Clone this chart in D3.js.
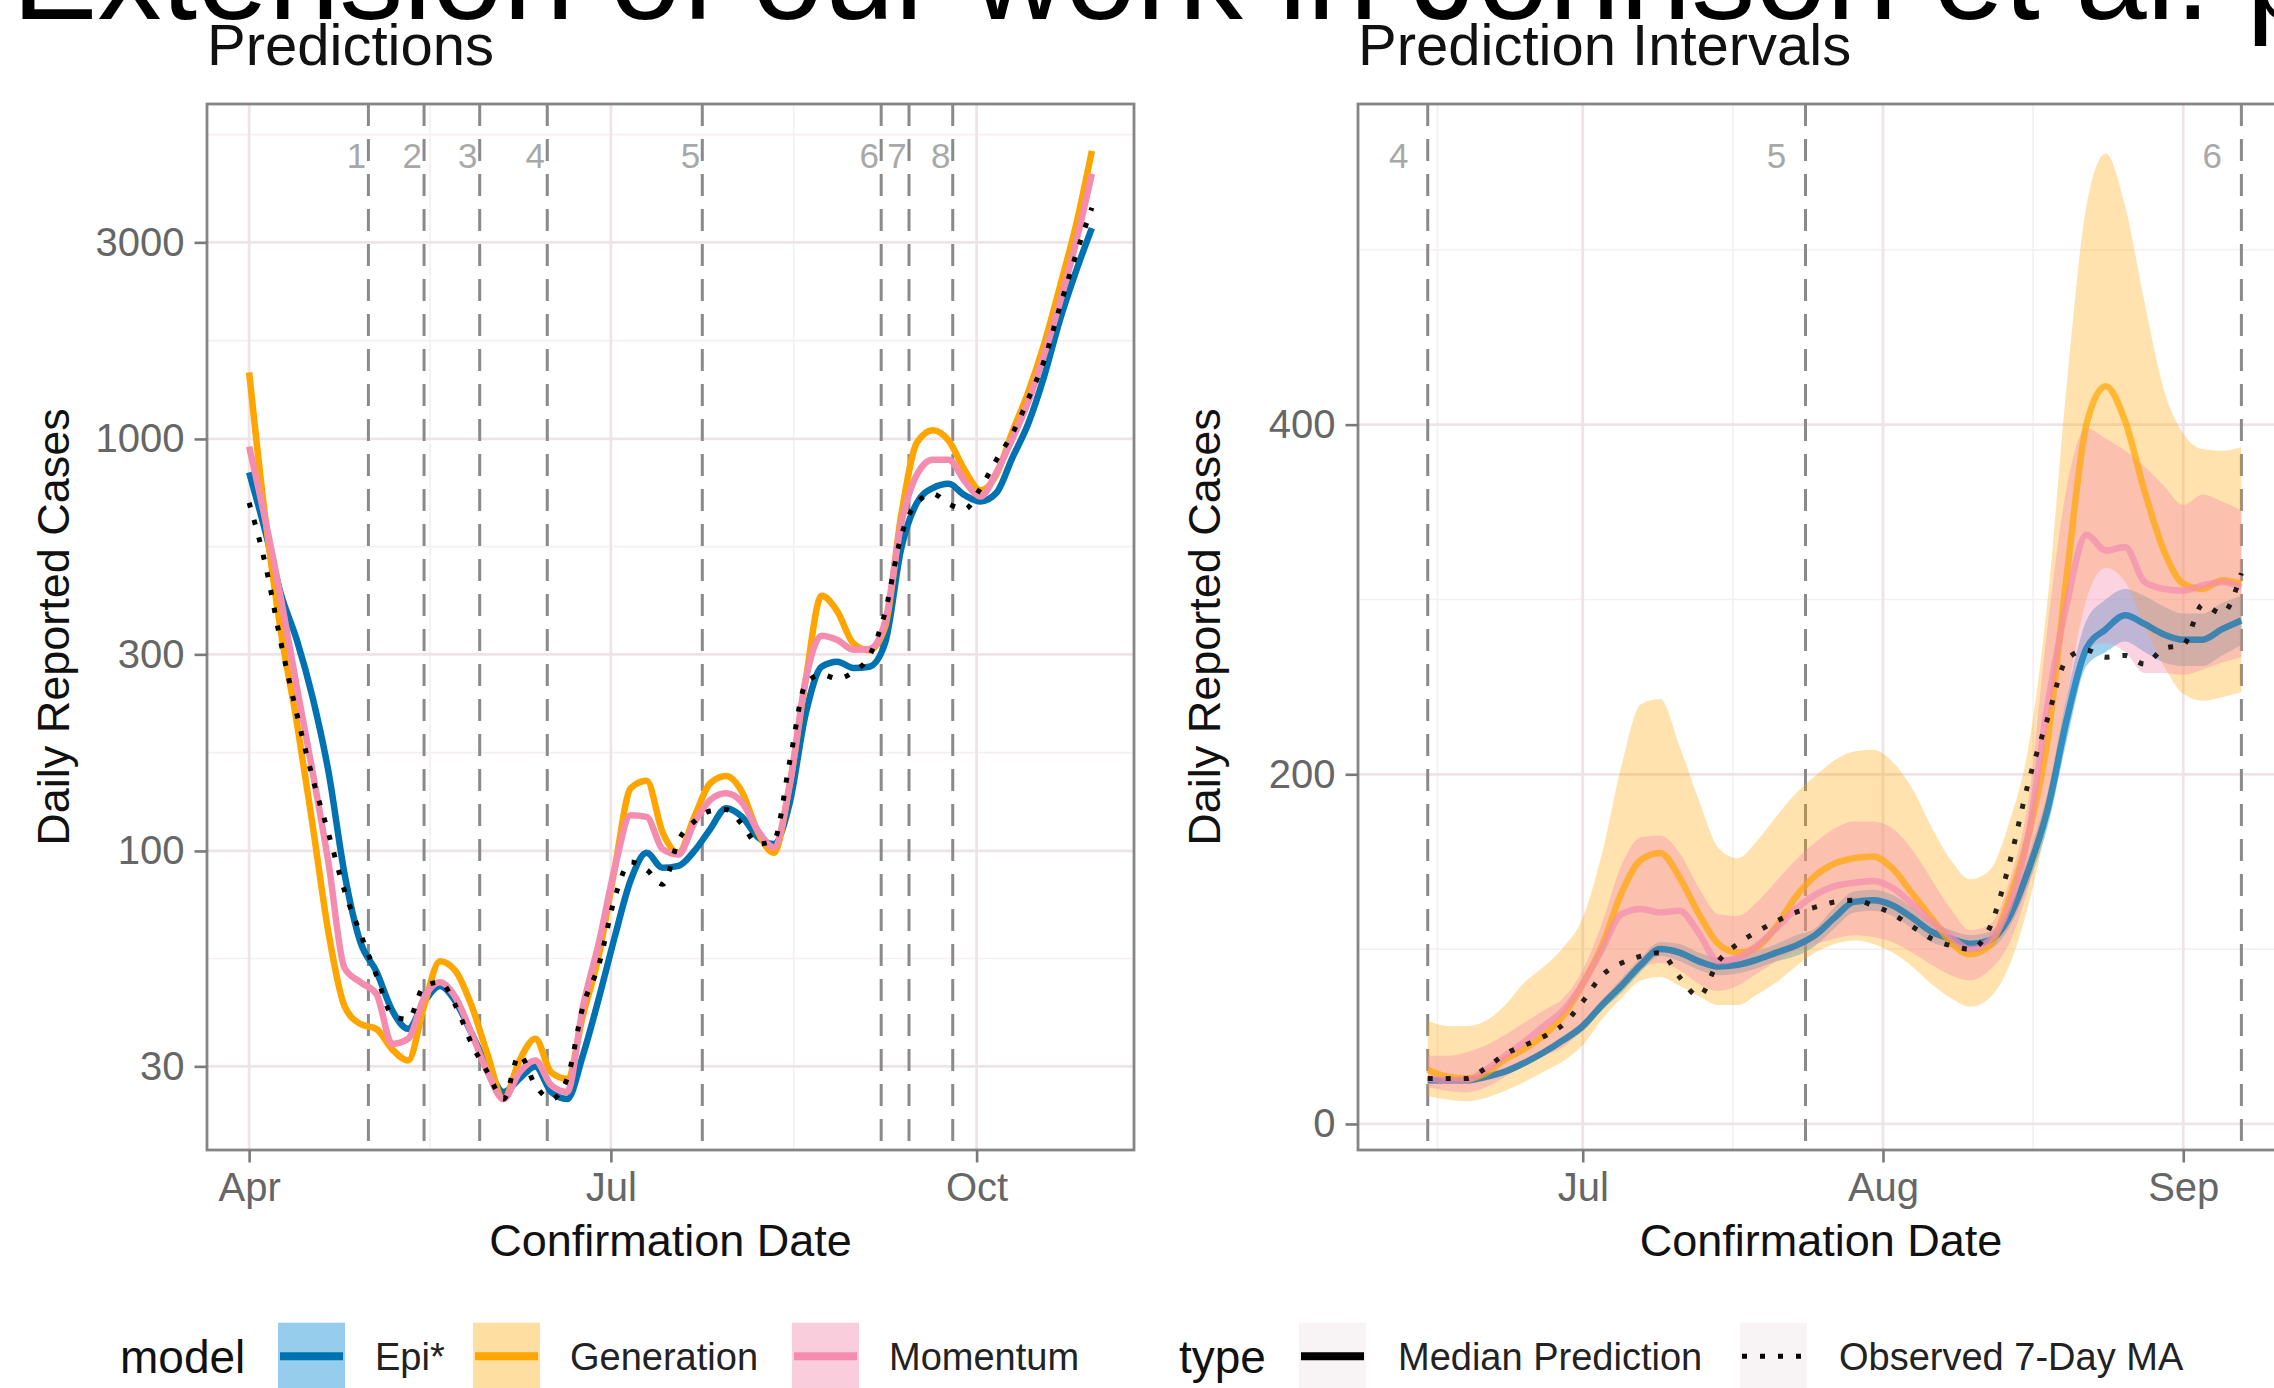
<!DOCTYPE html>
<html>
<head>
<meta charset="utf-8">
<script src="https://cdn.jsdelivr.net/npm/d3@7"></script>
<style>
	body { margin: 0; background: #fff; overflow: hidden; }
	text { font-family: "Liberation Sans", Arial, Helvetica, sans-serif; }
</style>
</head>
<body>
<script>
// ---------- data ----------

// left panel: days after 2020-04-01 (every 4 days up to 30 Oct)
let predDays = [0, 4, 8, 12, 16, 20, 24, 28, 32, 36,
	40, 44, 48, 52, 56, 60, 64, 68, 72, 76,
	80, 84, 88, 92, 96, 100, 104, 108, 112, 116,
	120, 124, 128, 132, 136, 140, 144, 148, 152, 156,
	160, 164, 168, 172, 176, 180, 184, 188, 192, 196,
	200, 204, 208, 212];

let epiMedian = [830, 600, 420, 325, 235, 155, 88, 60, 51, 41,
	37, 43, 47, 43, 36, 30, 26, 28, 30, 26,
	25, 32, 44, 62, 85, 99, 91, 92, 100, 113,
	127, 121, 108, 104, 131, 215, 280, 288, 278, 280,
	320, 540, 700, 760, 778, 730, 705, 740, 900, 1090,
	1420, 1950, 2550, 3250];

let genMedian = [1450, 650, 340, 205, 115, 63, 42, 38, 37, 33,
	31, 42, 54, 51, 42, 32, 25, 31, 35, 29,
	28, 40, 56, 91, 142, 148, 111, 99, 121, 146,
	152, 139, 111, 99, 145, 260, 416, 381, 319, 307,
	350, 650, 980, 1050, 990, 840, 750, 820, 1040, 1300,
	1700, 2350, 3300, 5000];

let momMedian = [958, 640, 410, 250, 155, 93, 52, 48, 45, 34,
	35, 44, 48, 44, 36, 29, 25, 29, 31, 27,
	26, 42, 60, 91, 122, 121, 101, 98, 117, 133,
	138, 131, 112, 102, 145, 260, 333, 325, 308, 309,
	360, 620, 820, 890, 890, 790, 725, 830, 1000, 1230,
	1600, 2150, 3000, 4400];

let observedMA = [700, 500, 320, 215, 150, 110, 80, 63, 50, 40,
	39, 47, 48, 42, 34, 29, 25, 32, 27, 25,
	28, 42, 53, 77, 94, 90, 83, 106, 118, 125,
	126, 116, 104, 106, 165, 254, 268, 262, 272, 297,
	380, 580, 700, 736, 695, 675, 760, 890, 1030, 1250,
	1550, 2100, 2800, 3640];

// right panel: days after 2020-06-15 (every 2 days up to 7 Sep)
let intDays = [0, 2, 4, 6, 8, 10, 12, 14, 16, 18,
	20, 22, 24, 26, 28, 30, 32, 34, 36, 38,
	40, 42, 44, 46, 48, 50, 52, 54, 56, 58,
	60, 62, 64, 66, 68, 70, 72, 74, 76, 78,
	80, 82, 84];

let epiMid = [25, 25, 25, 27, 30, 35, 41, 48, 56, 68,
	79, 91, 100, 98, 93, 90, 91, 94, 98, 102,
	108, 118, 127, 128, 125, 118, 110, 106, 103, 105,
	118, 145, 180, 232, 272, 283, 291, 286, 280, 277,
	277, 283, 288];
let epiLo = [23, 23, 23, 25, 28, 33, 39, 46, 53, 65,
	75, 87, 96, 93, 88, 85, 86, 89, 93, 96,
	102, 112, 121, 122, 119, 112, 104, 101, 98, 100,
	112, 137, 170, 220, 262, 270, 276, 270, 264, 262,
	262, 268, 274];
let epiHi = [27, 27, 27, 29, 32, 37, 43, 50, 59, 71,
	83, 95, 104, 103, 98, 95, 96, 99, 103, 108,
	112, 124, 133, 134, 131, 124, 116, 111, 108, 110,
	124, 153, 190, 245, 288, 300, 306, 302, 296, 292,
	292, 298, 302];

let genMid = [31, 27, 26, 29, 37, 43, 51, 62, 80, 102,
	132, 151, 155, 141, 120, 103, 98, 101, 113, 130,
	142, 149, 152, 153, 146, 132, 118, 104, 97, 102,
	128, 165, 220, 315, 400, 422, 402, 362, 328, 309,
	306, 311, 309];
let genLo = [16, 14, 13, 15, 19, 24, 30, 36, 45, 60,
	72, 82, 84, 79, 73, 68, 68, 74, 81, 90,
	98, 103, 105, 103, 98, 90, 80, 72, 67, 72,
	90, 125, 175, 245, 300, 318, 310, 285, 262, 246,
	242, 244, 247];
let genHi = [59, 56, 56, 59, 68, 81, 90, 101, 118, 155,
	205, 240, 243, 216, 185, 158, 152, 162, 176, 189,
	199, 208, 213, 214, 207, 192, 170, 151, 140, 145,
	172, 215, 300, 425, 525, 555, 525, 470, 420, 395,
	386, 385, 387];

let momMid = [26, 25, 25, 31, 39, 47, 56, 65, 80, 100,
	120, 123, 121, 122, 109, 93, 95, 102, 112, 123,
	131, 136, 138, 139, 135, 126, 116, 107, 100, 105,
	124, 165, 240, 298, 337, 328, 330, 310, 306, 305,
	308, 310, 307];
let momLo = [21, 19, 18, 21, 27, 34, 39, 44, 54, 68,
	79, 89, 92, 88, 80, 76, 79, 86, 93, 99,
	103, 106, 108, 107, 104, 98, 91, 85, 82, 88,
	103, 135, 185, 240, 272, 275, 270, 258, 258, 257,
	260, 264, 267];
let momHi = [39, 39, 41, 45, 51, 58, 65, 72, 88, 115,
	148, 164, 165, 155, 135, 120, 119, 127, 139, 151,
	161, 169, 173, 173, 169, 157, 140, 123, 111, 114,
	138, 185, 285, 365, 398, 392, 385, 376, 365, 354,
	360, 356, 351];

let observedInt = [26, 26, 26, 32, 40, 45, 50, 57, 70, 85,
	92, 96, 98, 84, 73, 93, 103, 110, 116, 121,
	124, 127, 128, 125, 120, 113, 106, 102, 100, 112,
	148, 195, 232, 266, 271, 267, 268, 263, 272, 274,
	297, 292, 315];

// numbered change points (dashed lines)
let changeDates = ["2020-05-01", "2020-05-15", "2020-05-29", "2020-06-15",
	"2020-07-24", "2020-09-07", "2020-09-14", "2020-09-25"];
let changeLabels = ["1", "2", "3", "4", "5", "6", "7", "8"];

let modelNames = ["Epi*", "Generation", "Momentum"];
let typeNames = ["Median Prediction", "Observed 7-Day MA"];

let logTicks = [30, 100, 300, 1000, 3000];
let linTicks = [0, 200, 400];
let leftMonths = ["2020-04-01", "2020-07-01", "2020-10-01"];
let rightMonths = ["2020-07-01", "2020-08-01", "2020-09-01"];

// ---------- styling ----------
let lineColors = ["#0072B2", "#FFA500", "#F48CB0"];
let ribbonColors = ["#3fa3dc", "#FFA500", "#F48CB0"];
let ribbonAlpha = [0.5, 0.32, 0.38];

const DAY = 864e5;
let parse = d3.utcParse("%Y-%m-%d");
let apr1 = parse("2020-04-01");
let jun15 = parse("2020-06-15");
let jul1 = parse("2020-07-01");
let shift = (base, d) => new Date(base.getTime() + d * DAY);

let svg = d3.select("body").append("svg")
	.attr("width", 2274)
	.attr("height", 1388);

svg.append("rect").attr("width", 2274).attr("height", 1388).attr("fill", "#fff");

//slide heading, cut off at the top of the picture
svg.append("text")
	.attr("x", 12)
	.attr("y", 19)
	.attr("font-size", 128)
	.attr("fill", "#000")
	.text("Extension of our work in Johnson et al. p");

//the two panels
let left = {
	x0: 207, x1: 1134, y0: 104, y1: 1150,
	x: d3.scaleUtc().domain([shift(apr1, -10.6), shift(apr1, 222.6)]).range([207, 1134]),
	y: d3.scaleLog().domain([18.8, 6500]).range([1150, 104]),
	yTicks: logTicks,
	yMinor: [54.8, 173.2, 547.7, 1732, 5477],
	xTicks: leftMonths.map(parse),
	xMinor: [shift(apr1, 45.5), shift(jul1, 46)],
	title: "Predictions",
	id: "clipL"
};

let right = {
	x0: 1358, x1: 2284, y0: 104, y1: 1150,
	x: d3.scaleUtc().domain([shift(jul1, -23.2), shift(jul1, 72.4)]).range([1358, 2284]),
	y: d3.scaleLinear().domain([-14.9, 583.4]).range([1150, 104]),
	yTicks: linTicks,
	yMinor: [100, 300, 500],
	xTicks: rightMonths.map(parse),
	xMinor: [parse("2020-06-16"), shift(jul1, 15.5), shift(parse("2020-08-01"), 15.5)],
	title: "Prediction Intervals",
	id: "clipR"
};

function drawPanel(p) {
	let g = svg.append("g");

	g.append("clipPath").attr("id", p.id)
		.append("rect")
		.attr("x", p.x0).attr("y", p.y0)
		.attr("width", p.x1 - p.x0).attr("height", p.y1 - p.y0);

	//grid lines, minor first
	g.selectAll(".yminor").data(p.yMinor).enter().append("line")
		.attr("x1", p.x0).attr("x2", p.x1)
		.attr("y1", d => p.y(d)).attr("y2", d => p.y(d))
		.attr("stroke", "#f6eff2").attr("stroke-width", 1.6);
	g.selectAll(".xminor").data(p.xMinor).enter().append("line")
		.attr("y1", p.y0).attr("y2", p.y1)
		.attr("x1", d => p.x(d)).attr("x2", d => p.x(d))
		.attr("stroke", "#f6eff2").attr("stroke-width", 1.6);
	g.selectAll(".ymajor").data(p.yTicks).enter().append("line")
		.attr("x1", p.x0).attr("x2", p.x1)
		.attr("y1", d => p.y(d)).attr("y2", d => p.y(d))
		.attr("stroke", "#eee4e8").attr("stroke-width", 2.8);
	g.selectAll(".xmajor").data(p.xTicks).enter().append("line")
		.attr("y1", p.y0).attr("y2", p.y1)
		.attr("x1", d => p.x(d)).attr("x2", d => p.x(d))
		.attr("stroke", "#eee4e8").attr("stroke-width", 2.8);

	//numbered dashed lines, only those that fall inside the panel
	let [d0, d1] = p.x.domain();
	let changes = changeDates.map((c, i) => ({date: parse(c), label: changeLabels[i]}))
		.filter(c => c.date >= d0 && c.date <= d1);
	let cg = g.append("g").attr("clip-path", `url(#${p.id})`);
	cg.selectAll("line").data(changes).enter().append("line")
		.attr("x1", d => p.x(d.date)).attr("x2", d => p.x(d.date))
		.attr("y1", p.y0).attr("y2", p.y1)
		.attr("stroke", "#8a8a8a").attr("stroke-width", 3)
		.attr("stroke-dasharray", "22,13");
	cg.selectAll("text").data(changes).enter().append("text")
		.attr("x", d => p.x(shift(d.date, -3)))
		.attr("y", p.y0 + 64)
		.attr("text-anchor", "middle")
		.attr("font-size", 35)
		.attr("fill", "#a8a8a8")
		.text(d => d.label);

	//data layer, clipped to the panel
	p.plot = g.append("g").attr("clip-path", `url(#${p.id})`);

	//panel border
	g.append("rect")
		.attr("x", p.x0).attr("y", p.y0)
		.attr("width", p.x1 - p.x0).attr("height", p.y1 - p.y0)
		.attr("fill", "none").attr("stroke", "#858585").attr("stroke-width", 2.8);

	//axes
	g.append("g")
		.attr("transform", `translate(${p.x0},0)`)
		.call(d3.axisLeft(p.y).tickValues(p.yTicks).tickFormat(d3.format("d")).tickSize(12.5).tickPadding(10))
		.call(styleAxis);
	g.append("g")
		.attr("transform", `translate(0,${p.y1})`)
		.call(d3.axisBottom(p.x).tickValues(p.xTicks).tickFormat(d3.utcFormat("%b")).tickSize(12.5).tickPadding(10))
		.call(styleAxis);

	//titles
	g.append("text")
		.attr("x", p.x0).attr("y", 65)
		.attr("font-size", 58).attr("fill", "#111")
		.text(p.title);
	g.append("text")
		.attr("x", (p.x0 + p.x1) / 2).attr("y", 1256)
		.attr("text-anchor", "middle")
		.attr("font-size", 45).attr("fill", "#111")
		.text("Confirmation Date");
	g.append("text")
		.attr("transform", `translate(${p.x0 - 138},${(p.y0 + p.y1) / 2}) rotate(-90)`)
		.attr("text-anchor", "middle")
		.attr("font-size", 45).attr("fill", "#111")
		.text("Daily Reported Cases");
}

function styleAxis(a) {
	a.select(".domain").remove();
	a.selectAll("line").attr("stroke", "#7a7a7a").attr("stroke-width", 2.6);
	a.selectAll("text").attr("fill", "#666").attr("font-size", 40);
}

drawPanel(left);
drawPanel(right);

// ---------- left panel: medians on log scale ----------
let predDates = predDays.map(d => shift(apr1, d));
let leftLine = d3.line()
	.x((d, i) => left.x(predDates[i]))
	.y(d => left.y(d))
	.curve(d3.curveMonotoneX);

[epiMedian, genMedian, momMedian].forEach((vals, i) => {
	left.plot.append("path")
		.attr("d", leftLine(vals))
		.attr("fill", "none")
		.attr("stroke", lineColors[i])
		.attr("stroke-width", 6.5)
		.attr("stroke-linejoin", "round");
});

left.plot.append("path")
	.attr("d", leftLine(observedMA))
	.attr("fill", "none")
	.attr("stroke", "#000")
	.attr("stroke-width", 5)
	.attr("stroke-dasharray", "5,13");

// ---------- right panel: intervals on linear scale ----------
let intDates = intDays.map(d => shift(jun15, d));
let rightLine = d3.line()
	.x((d, i) => right.x(intDates[i]))
	.y(d => right.y(d))
	.curve(d3.curveMonotoneX);
let rightArea = d3.area()
	.x((d, i) => right.x(intDates[i]))
	.y0(d => right.y(d[0]))
	.y1(d => right.y(d[1]))
	.curve(d3.curveMonotoneX);

let bands = [[epiLo, epiHi], [genLo, genHi], [momLo, momHi]];
bands.forEach((b, i) => {
	right.plot.append("path")
		.attr("d", rightArea(b[0].map((lo, j) => [lo, b[1][j]])))
		.attr("fill", ribbonColors[i])
		.attr("fill-opacity", ribbonAlpha[i]);
});

[epiMid, genMid, momMid].forEach((vals, i) => {
	right.plot.append("path")
		.attr("d", rightLine(vals))
		.attr("fill", "none")
		.attr("stroke", lineColors[i])
		.attr("stroke-opacity", 0.7)
		.attr("stroke-width", 6.5)
		.attr("stroke-linejoin", "round");
});

right.plot.append("path")
	.attr("d", rightLine(observedInt))
	.attr("fill", "none")
	.attr("stroke", "#000")
	.attr("stroke-opacity", 0.85)
	.attr("stroke-width", 5)
	.attr("stroke-dasharray", "5,13");

// ---------- legend ----------
let legend = svg.append("g");
let keyTop = 1322.7, keySize = 67, keyMid = keyTop + keySize / 2;

legend.append("text")
	.attr("x", 120).attr("y", 1373)
	.attr("font-size", 46).attr("fill", "#111")
	.text("model");

let modelKeyX = [278, 473, 792];
modelNames.forEach((name, i) => {
	let x = modelKeyX[i];
	legend.append("rect")
		.attr("x", x).attr("y", keyTop)
		.attr("width", keySize).attr("height", keySize)
		.attr("fill", ribbonColors[i]).attr("fill-opacity", ribbonAlpha[i] + 0.05);
	legend.append("line")
		.attr("x1", x + 2).attr("x2", x + keySize - 2)
		.attr("y1", keyMid).attr("y2", keyMid)
		.attr("stroke", lineColors[i]).attr("stroke-width", 8);
	legend.append("text")
		.attr("x", x + keySize + 30).attr("y", 1370)
		.attr("font-size", 38).attr("fill", "#222")
		.text(name);
});

legend.append("text")
	.attr("x", 1179).attr("y", 1373)
	.attr("font-size", 46).attr("fill", "#111")
	.text("type");

let typeKeyX = [1299, 1740];
typeNames.forEach((name, i) => {
	let x = typeKeyX[i];
	legend.append("rect")
		.attr("x", x).attr("y", keyTop)
		.attr("width", keySize).attr("height", keySize)
		.attr("fill", "#f8f3f5");
	legend.append("line")
		.attr("x1", x + 2).attr("x2", x + keySize - 2)
		.attr("y1", keyMid).attr("y2", keyMid)
		.attr("stroke", "#000")
		.attr("stroke-width", i === 0 ? 8 : 5)
		.attr("stroke-dasharray", i === 0 ? null : "5,13");
	legend.append("text")
		.attr("x", x + keySize + 32).attr("y", 1370)
		.attr("font-size", 38).attr("fill", "#222")
		.text(name);
});
</script>
</body>
</html>
